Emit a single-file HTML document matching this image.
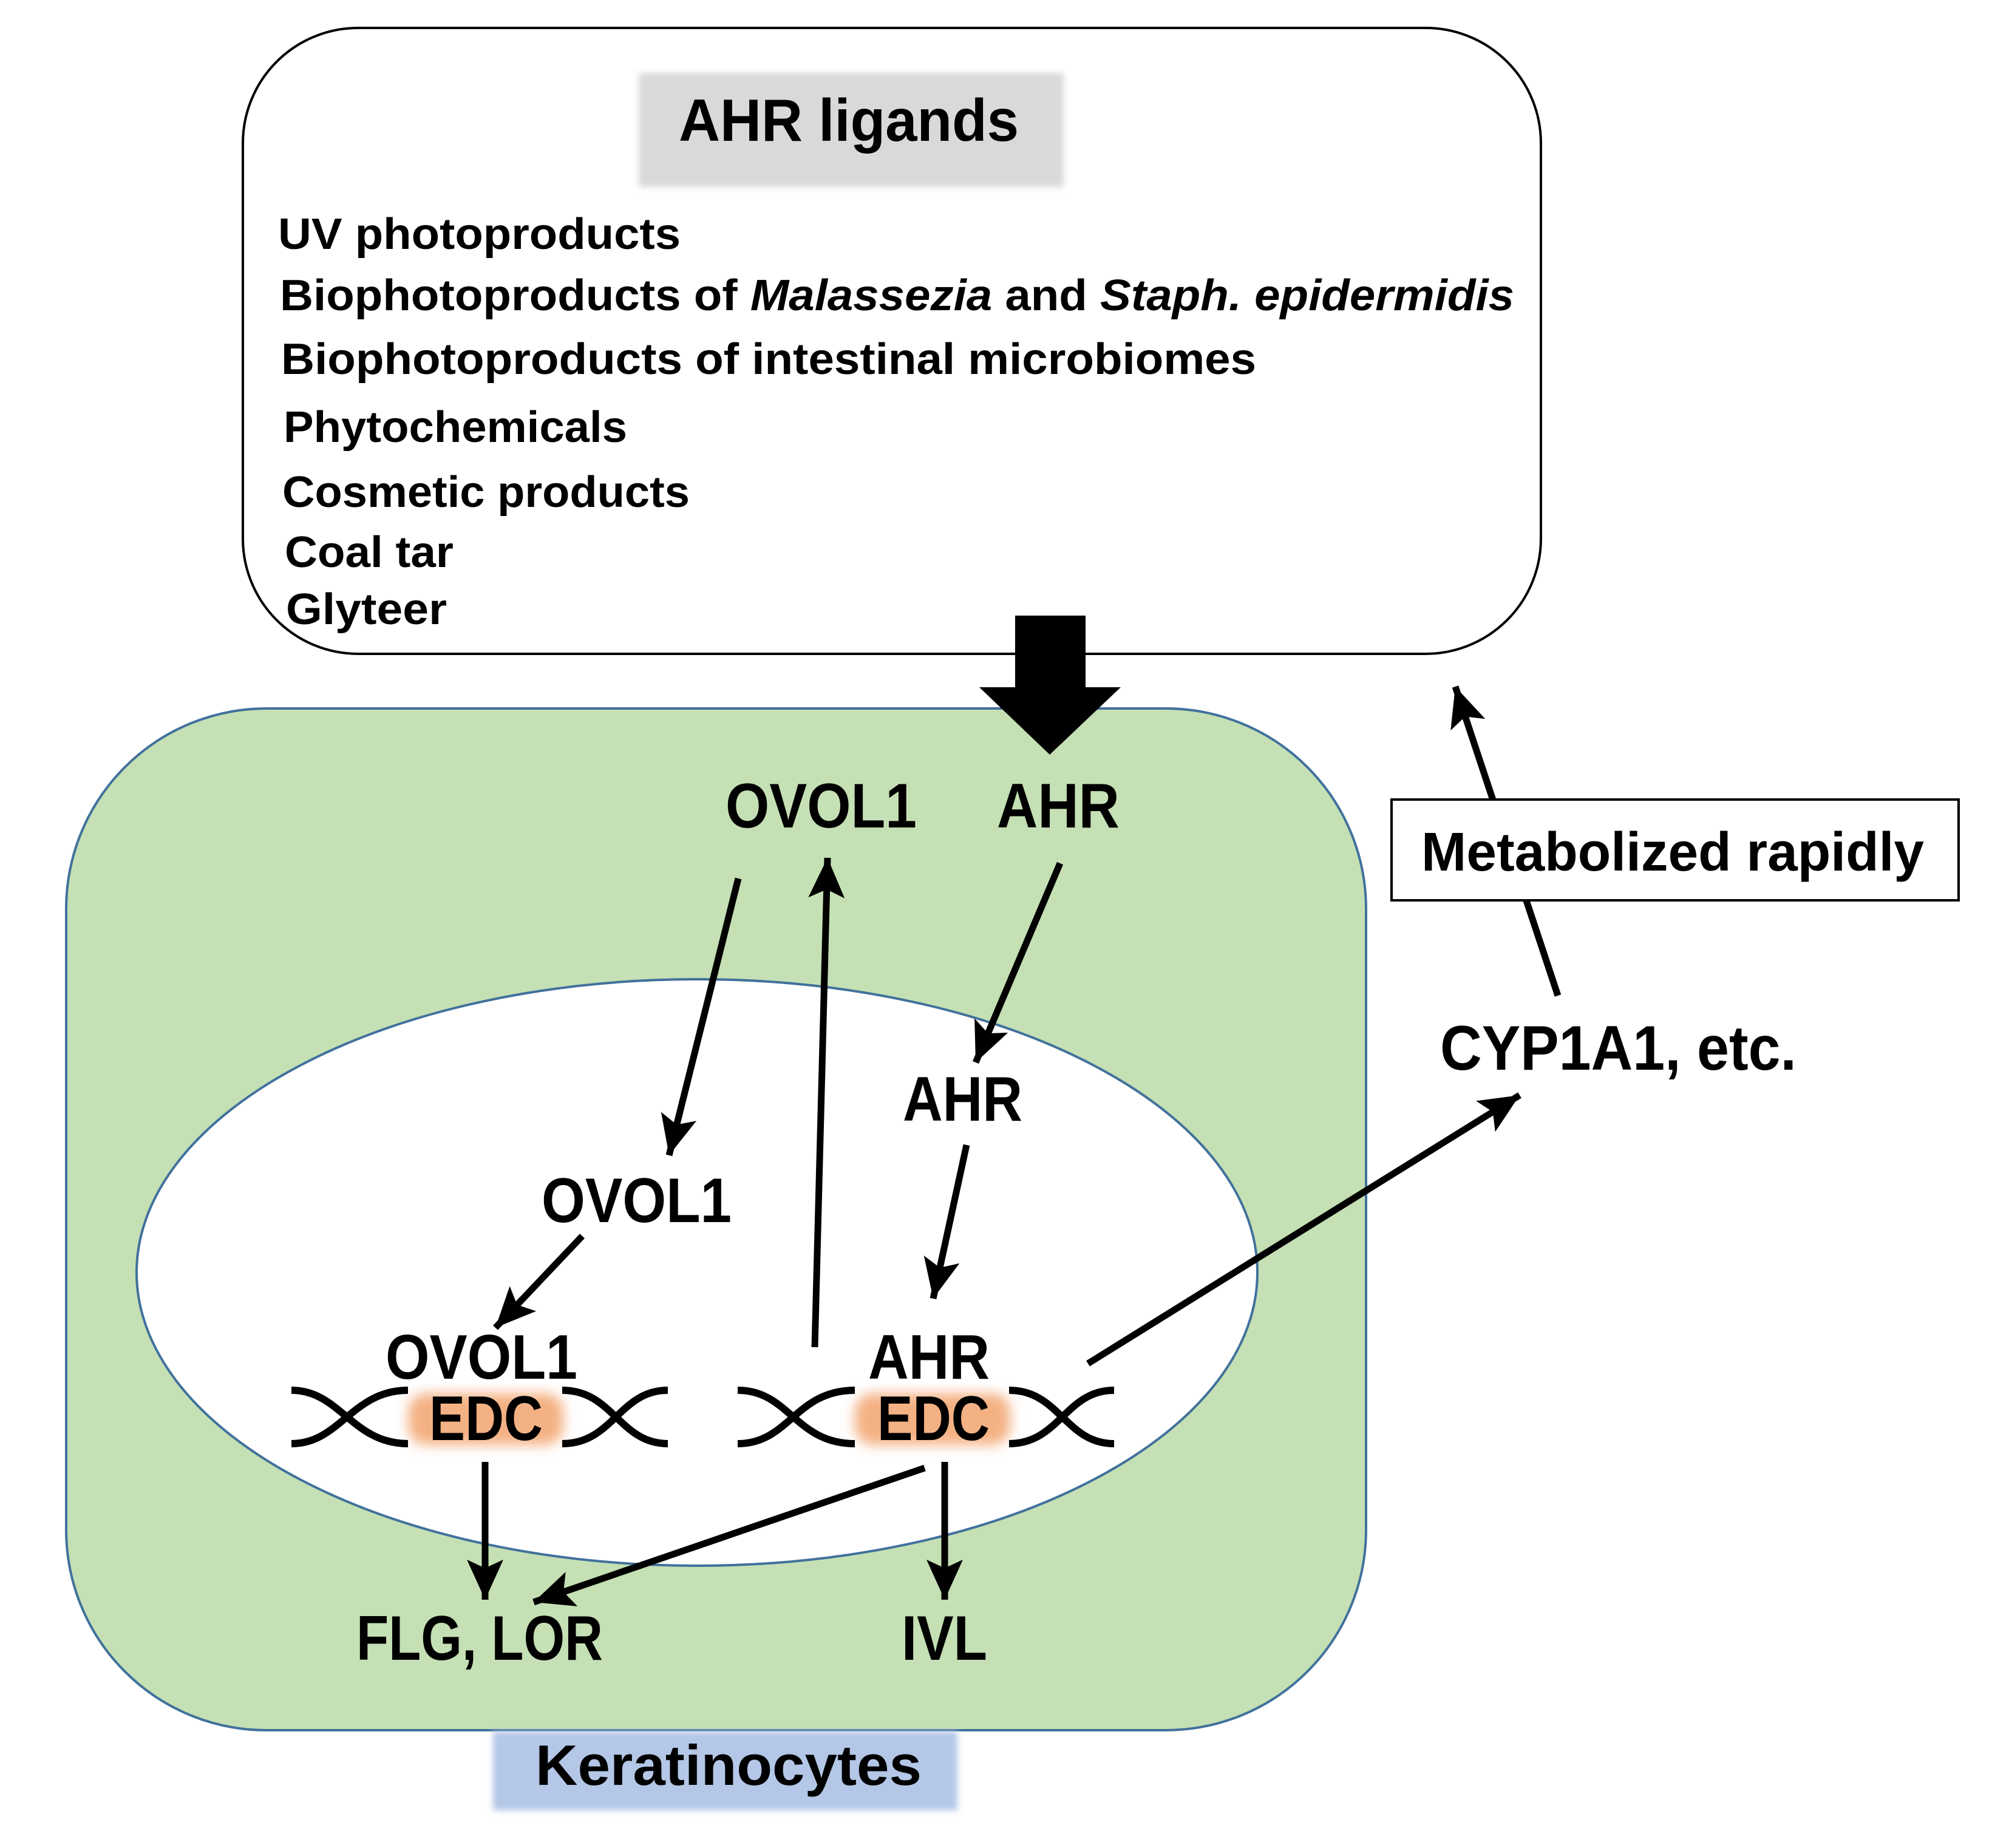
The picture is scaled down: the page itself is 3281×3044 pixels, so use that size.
<!DOCTYPE html>
<html><head><meta charset="utf-8"><style>
html,body{margin:0;padding:0;background:#fff}
svg{display:block}
text{font-family:"Liberation Sans",sans-serif;font-weight:bold;fill:#000}
</style></head><body>
<svg width="3281" height="3044" viewBox="0 0 3281 3044" xmlns="http://www.w3.org/2000/svg">
<defs>
<marker id="ah" markerUnits="userSpaceOnUse" markerWidth="80" markerHeight="70" refX="66" refY="30" orient="auto">
<path d="M0,0 L66,30 L0,60 L14,30 Z" fill="#000"/>
</marker>
<filter id="blur" x="-30%" y="-50%" width="160%" height="200%"><feGaussianBlur stdDeviation="10"/></filter>
<filter id="blur2" x="-10%" y="-20%" width="120%" height="140%"><feGaussianBlur stdDeviation="5"/></filter>
</defs>
<rect width="3281" height="3044" fill="#fff"/>
<rect x="400" y="46" width="2138" height="1031" rx="190" ry="190" fill="#fff" stroke="#000" stroke-width="4"/>
<rect x="1052" y="120" width="700" height="188" fill="#d9d9d9" filter="url(#blur2)"/>
<text x="1398" y="232" font-size="98" text-anchor="middle" textLength="560" lengthAdjust="spacingAndGlyphs">AHR ligands</text>
<g font-size="72">
<text x="458" y="410" textLength="663" lengthAdjust="spacingAndGlyphs">UV photoproducts</text>
<text x="461" y="511" textLength="2033" lengthAdjust="spacingAndGlyphs">Biophotoproducts of <tspan font-style="italic">Malassezia</tspan> and <tspan font-style="italic">Staph. epidermidis</tspan></text>
<text x="463" y="616" textLength="1606" lengthAdjust="spacingAndGlyphs">Biophotoproducts of intestinal microbiomes</text>
<text x="467" y="728" textLength="566" lengthAdjust="spacingAndGlyphs">Phytochemicals</text>
<text x="465" y="835" textLength="671" lengthAdjust="spacingAndGlyphs">Cosmetic products</text>
<text x="469" y="934" textLength="278" lengthAdjust="spacingAndGlyphs">Coal tar</text>
<text x="471" y="1028" textLength="265" lengthAdjust="spacingAndGlyphs">Glyteer</text>
</g>
<rect x="109" y="1167" width="2141" height="1683" rx="330" ry="330" fill="#c5e0b4" stroke="#41719c" stroke-width="4"/>
<ellipse cx="1148" cy="2096" rx="923" ry="483" fill="#fff" stroke="#41719c" stroke-width="4"/>
<path d="M1672,1014 L1788,1014 L1788,1132 L1846,1132 L1729,1243 L1613,1132 L1672,1132 Z" fill="#000"/>
<rect x="812" y="2852" width="765" height="130" fill="#b4c7e7" filter="url(#blur2)"/>
<text x="1200" y="2940" font-size="94" text-anchor="middle" textLength="636" lengthAdjust="spacingAndGlyphs">Keratinocytes</text>
<rect x="672" y="2295" width="256" height="85" rx="30" fill="#f4b183" filter="url(#blur)"/>
<rect x="1408" y="2295" width="256" height="85" rx="30" fill="#f4b183" filter="url(#blur)"/>
<g fill="none" stroke="#000" stroke-width="12">
<path d="M480,2290 C560,2290 580,2378 672,2378 M480,2378 C560,2378 580,2290 672,2290"/>
<path d="M926,2290 C1010,2290 1020,2378 1100,2378 M926,2378 C1010,2378 1020,2290 1100,2290"/>
<path d="M1215,2290 C1300,2290 1310,2378 1408,2378 M1215,2378 C1300,2378 1310,2290 1408,2290"/>
<path d="M1662,2290 C1745,2290 1755,2378 1835,2378 M1662,2378 C1745,2378 1755,2290 1835,2290"/>
</g>
<g stroke="#000" stroke-width="11" fill="none" marker-end="url(#ah)">
<line x1="1216" y1="1447" x2="1102" y2="1903"/>
<line x1="1342" y1="2219" x2="1363" y2="1413"/>
<line x1="1746" y1="1422" x2="1607" y2="1750"/>
<line x1="1592" y1="1886" x2="1537" y2="2139"/>
<line x1="959" y1="2036" x2="816" y2="2187"/>
<line x1="1792" y1="2246" x2="2503" y2="1804"/>
<line x1="2566" y1="1640" x2="2397" y2="1131"/>
<line x1="799" y1="2408" x2="799" y2="2635"/>
<line x1="1556" y1="2408" x2="1556" y2="2635"/>
<line x1="1523" y1="2418" x2="879" y2="2639"/>
</g>
<rect x="2292" y="1317" width="934" height="166" fill="#fff" stroke="#000" stroke-width="4"/>
<text x="2341" y="1434" font-size="90" textLength="828" lengthAdjust="spacingAndGlyphs">Metabolized rapidly</text>
<g font-size="104">
<text x="1195" y="1363" textLength="315" lengthAdjust="spacingAndGlyphs">OVOL1</text>
<text x="1642" y="1363" textLength="202" lengthAdjust="spacingAndGlyphs">AHR</text>
<text x="2372" y="1762" textLength="587" lengthAdjust="spacingAndGlyphs">CYP1A1, etc.</text>
<text x="1487" y="1846" textLength="197" lengthAdjust="spacingAndGlyphs">AHR</text>
<text x="892" y="2013" textLength="313" lengthAdjust="spacingAndGlyphs">OVOL1</text>
<text x="635" y="2271" textLength="316" lengthAdjust="spacingAndGlyphs">OVOL1</text>
<text x="1430" y="2271" textLength="200" lengthAdjust="spacingAndGlyphs">AHR</text>
<text x="707" y="2372" textLength="187" lengthAdjust="spacingAndGlyphs">EDC</text>
<text x="1445" y="2372" textLength="185" lengthAdjust="spacingAndGlyphs">EDC</text>
<text x="587" y="2734" textLength="406" lengthAdjust="spacingAndGlyphs">FLG, LOR</text>
<text x="1485" y="2734" textLength="141" lengthAdjust="spacingAndGlyphs">IVL</text>
</g>
</svg>
</body></html>
